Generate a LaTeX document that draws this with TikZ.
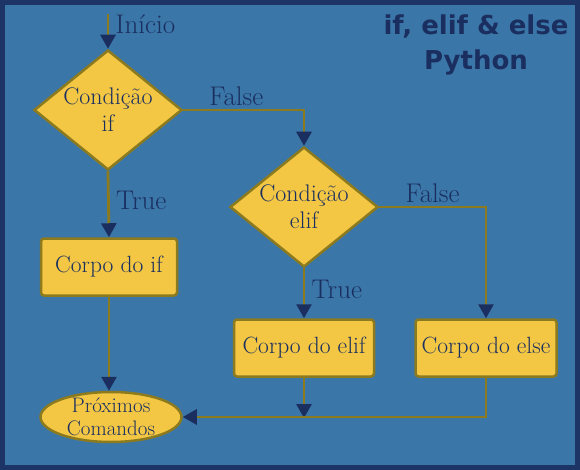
\documentclass[tikz,border=0pt]{standalone}
\usepackage{fontspec}
\newfontfamily\titlefont{DejaVu Sans}
\usetikzlibrary{shapes.geometric,arrows.meta}

\definecolor{fundo}{HTML}{3B76A8}
\definecolor{borda}{HTML}{1D3566}
\definecolor{amarelo}{HTML}{F3C744}
\definecolor{oliva}{HTML}{8C7A1E}
\definecolor{azul}{HTML}{1A2F60}

\tikzset{
  caixa/.style={rectangle,rounded corners=3pt,draw=oliva,fill=amarelo,line width=2.5pt,
    minimum width=136pt,minimum height=57pt,text=azul,font=\fontsize{23.5}{27}\selectfont},
  decisao/.style={diamond,draw=oliva,fill=amarelo,line width=2.5pt,aspect=1.23,inner sep=-6pt,
    minimum width=148pt,minimum height=120pt,align=center,text=azul,font=\fontsize{24}{27}\selectfont},
  fim/.style={ellipse,draw=oliva,fill=amarelo,line width=2.5pt,inner xsep=0pt,inner ysep=-10pt,
    minimum width=141pt,minimum height=50pt,align=center,text=azul,font=\fontsize{21}{23}\selectfont},
  seta/.style={draw=oliva,line width=2.8pt,-{Triangle[width=15pt,length=14pt,color=azul]}},
  rotulo/.style={text=azul,font=\fontsize{27}{30}\selectfont}
}

\begin{document}
\begin{tikzpicture}[x=1pt,y=-1pt]
  \useasboundingbox (0,0) rectangle (580,470);
  \fill[borda] (0,0) rectangle (580,470);
  \fill[fundo] (5,5) rectangle (575,465);

  \node[text=azul,font=\titlefont\bfseries\fontsize{26}{35}\selectfont,align=center] (titulo) at (476,45) {if, elif \& else\\Python};

  \coordinate (inicio) at (108,14);
  \node[decisao] (cif) at (108,110) {Condição\\if};
  \node[caixa] (corpoif) at (109,267) {Corpo do if};
  \node[decisao] (celif) at (304,207) {Condição\\elif};
  \node[caixa,minimum width=140pt] (corpoelif) at (304,348) {Corpo do elif};
  \node[caixa,minimum width=141pt] (corpoelse) at (486,348) {Corpo do else};
  \node[fim] (prox) at (111,417) {Próximos\\Comandos};
  \coordinate (junta) at (304,418);

  \draw[seta] (inicio) -- node[rotulo,right=3pt,pos=0.3] {Início} (cif.north);
  \draw[seta] (cif.east) -| node[rotulo,above,pos=0.22] {False} (celif.north);
  \draw[seta] (cif.south) -- node[rotulo,right=3pt,pos=0.44] {True} (corpoif.north);
  \draw[seta] (corpoif.south) -- (corpoif.south |- prox.north);
  \draw[seta] (celif.south) -- node[rotulo,right=3pt,pos=0.42] {True} (corpoelif.north);
  \draw[seta] (celif.east) -| node[rotulo,above,pos=0.25] {False} (corpoelse.north);
  \draw[seta] (corpoelif.south) -- (junta);
  \draw[seta] (corpoelse.south) |- (prox.east);
\end{tikzpicture}
\end{document}
